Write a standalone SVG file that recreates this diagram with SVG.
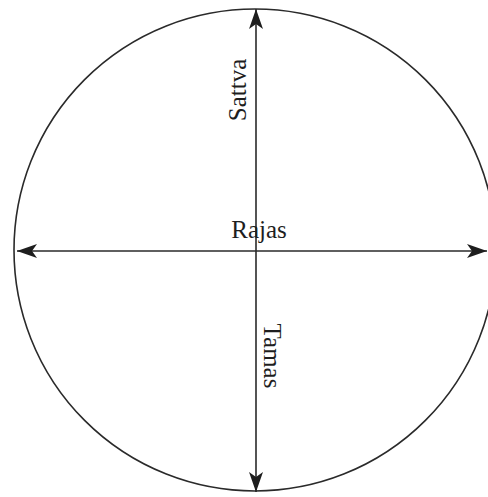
<svg xmlns="http://www.w3.org/2000/svg" width="488" height="497" viewBox="0 0 488 497">
<style>
.ln{stroke:#2a2a2a;stroke-width:1.6;fill:none}
.lb{font-family:"Liberation Serif","Times New Roman",serif;font-size:25px;fill:#1e1e1e}
</style>
<defs>
<marker id="ah" viewBox="0 0 20 14" refX="20" refY="7" markerWidth="20" markerHeight="14" markerUnits="userSpaceOnUse" orient="auto">
<path d="M0,0 L20,7 L0,14 L5,7 Z" fill="#1e1e1e"/>
</marker>
</defs>
<rect width="488" height="497" fill="#fff"/>
<g id="circle"><circle cx="255" cy="250" r="241" class="ln"/></g>
<g id="connectors">
<line x1="256" y1="250" x2="256" y2="9" class="ln" marker-end="url(#ah)"/>
<line x1="256" y1="250" x2="256" y2="492" class="ln" marker-end="url(#ah)"/>
<line x1="256" y1="251" x2="17" y2="251" class="ln" marker-end="url(#ah)"/>
<line x1="256" y1="251" x2="487" y2="251" class="ln" marker-end="url(#ah)"/>
</g>
<g id="satva"><text class="lb" transform="translate(246,90) rotate(-90)" text-anchor="middle">Sattva</text></g>
<g id="rajas"><text class="lb" x="259" y="238" text-anchor="middle">Rajas</text></g>
<g id="tamas"><text class="lb" transform="translate(264,356) rotate(90)" text-anchor="middle">Tamas</text></g>
</svg>
